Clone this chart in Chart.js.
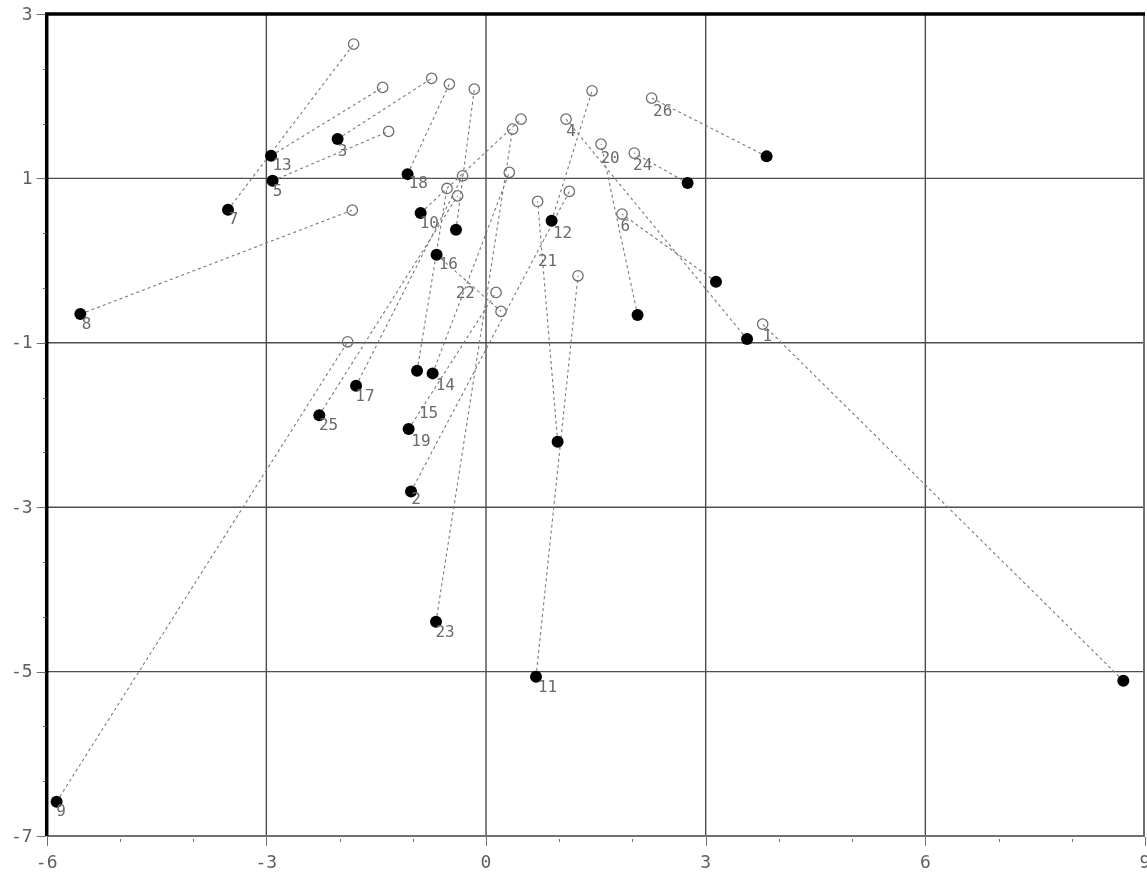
<!DOCTYPE html>
<html>
<head>
<meta charset="utf-8">
<title>Configuration comparison</title>
<script src="https://cdn.jsdelivr.net/npm/chart.js@4/dist/chart.umd.min.js"></script>
<style>
  html, body { margin: 0; padding: 0; background: #ffffff; overflow: hidden; }
  canvas { display: block; }
</style>
</head>
<body>
<canvas id="chart" width="1147" height="877"></canvas>
<script>
// Object numbers 1..26
const ids = [1,2,3,4,5,6,7,8,9,10,11,12,13,14,15,16,17,18,19,20,21,22,23,24,25,26];

// Filled markers (first configuration)
const fittedX = [8.704,-1.024,-2.027,3.565,-2.915,3.141,-3.524,-5.541,-5.865,-0.893,
                 0.683,0.896,-2.936,-0.729,-0.942,-0.675,-1.775,-1.071,-1.057,2.070,
                 0.978,-0.410,-0.683,2.753,-2.277,3.832];
const fittedY = [-5.112,-2.808,1.478,-0.955,0.971,-0.258,0.618,-0.651,-6.584,0.578,
                 -5.063,0.484,1.275,-1.372,-1.341,0.071,-1.523,1.052,-2.050,-0.663,
                 -2.204,0.375,-4.394,0.943,-1.880,1.268];

// Open markers (second configuration), same object order
const targetX = [3.778,1.138,-0.743,1.093,-1.330,1.857,-1.808,-1.826,-1.890,0.478,
                 1.256,1.448,-1.412,0.318,-0.533,0.205,-0.320,-0.501,0.137,1.571,
                 0.705,-0.160,0.363,2.025,-0.388,2.262];
const targetY = [-0.773,0.842,2.217,1.721,1.572,0.566,2.634,0.614,-0.988,1.721,
                 -0.185,2.066,2.107,1.073,0.878,-0.618,1.032,2.147,-0.387,1.417,
                 0.720,2.086,1.600,1.308,0.788,1.977];

// Where each object number is written
const labelX = [3.842,-0.956,-1.958,1.161,-2.846,1.903,-3.447,-5.455,-5.804,-0.774,
                0.841,1.046,-2.786,-0.556,-0.784,-0.515,-1.653,-0.925,-0.888,1.694,
                0.841,-0.283,-0.560,2.139,-2.150,2.412];
const labelY = [-0.919,-2.901,1.336,1.579,0.849,0.423,0.505,-0.773,-6.693,0.465,
                -5.180,0.343,1.165,-1.515,-1.855,-0.043,-1.645,0.951,-2.192,1.255,
                -0.002,-0.395,-4.511,1.162,-2.001,1.822];

const xTicks = [-6,-3,0,3,6,9];
const yTicks = [-7,-5,-3,-1,1,3];
const xMinorStep = 1;
const yMinorStep = 2/3;

const connectorSets = ids.map((id, i) => ({
  label: 'pair ' + id,
  data: [{x: fittedX[i], y: fittedY[i]}, {x: targetX[i], y: targetY[i]}],
  showLine: true,
  borderColor: '#7a7a7a',
  borderWidth: 1.1,
  borderDash: [3, 3],
  pointRadius: 0,
  pointHoverRadius: 0
}));

const filledSet = {
  label: 'fitted',
  data: ids.map((id, i) => ({x: fittedX[i], y: fittedY[i]})),
  pointRadius: 6,
  pointHoverRadius: 6,
  pointBackgroundColor: '#000000',
  pointBorderColor: '#000000',
  pointBorderWidth: 0,
  showLine: false
};

const openSet = {
  label: 'target',
  data: ids.map((id, i) => ({x: targetX[i], y: targetY[i]})),
  pointRadius: 5.2,
  pointHoverRadius: 5.2,
  pointBackgroundColor: 'rgba(255,255,255,0)',
  pointBorderColor: '#6e6e6e',
  pointBorderWidth: 1.3,
  showLine: false
};

const tickFontCss = '18px "DejaVu Sans Mono", monospace';

// Frame, grid, tick marks, tick labels and object numbers
const framePlugin = {
  id: 'frame',
  beforeDatasetsDraw(chart) {
    const {ctx, chartArea: a, scales: {x, y}} = chart;
    ctx.save();
    ctx.strokeStyle = '#4d4d4d';
    ctx.lineWidth = 1.4;
    xTicks.forEach(v => {
      if (v === x.min || v === x.max) return;
      const px = x.getPixelForValue(v);
      ctx.beginPath(); ctx.moveTo(px, a.top); ctx.lineTo(px, a.bottom); ctx.stroke();
    });
    yTicks.forEach(v => {
      if (v === y.min || v === y.max) return;
      const py = y.getPixelForValue(v);
      ctx.beginPath(); ctx.moveTo(a.left, py); ctx.lineTo(a.right, py); ctx.stroke();
    });
    ctx.restore();
  },
  afterDatasetsDraw(chart) {
    const {ctx, chartArea: a, scales: {x, y}} = chart;
    ctx.save();
    // lighter right and bottom edges
    ctx.strokeStyle = '#6f6f6f';
    ctx.lineWidth = 2;
    ctx.beginPath();
    ctx.moveTo(a.left, a.bottom); ctx.lineTo(a.right - 1, a.bottom); ctx.lineTo(a.right - 1, a.top);
    ctx.stroke();
    // heavy top and left edges
    ctx.strokeStyle = '#000000';
    ctx.lineWidth = 3.5;
    ctx.beginPath();
    ctx.moveTo(a.left, a.bottom); ctx.lineTo(a.left, a.top); ctx.lineTo(a.right, a.top);
    ctx.stroke();

    // tick marks
    ctx.strokeStyle = '#707070';
    ctx.lineWidth = 1;
    for (let v = x.min; v <= x.max + 1e-9; v += xMinorStep) {
      const px = Math.round(x.getPixelForValue(v)) + 0.5;
      const major = xTicks.includes(Math.round(v));
      ctx.beginPath();
      ctx.moveTo(px, a.bottom + (major ? 1 : 3));
      ctx.lineTo(px, a.bottom + (major ? 10 : 6));
      ctx.stroke();
    }
    for (let k = 0; ; k++) {
      const v = y.max - k * yMinorStep;
      if (v < y.min - 1e-9) break;
      const py = Math.round(y.getPixelForValue(v)) + 0.5;
      const major = yTicks.some(t => Math.abs(t - v) < 1e-6);
      ctx.beginPath();
      ctx.moveTo(a.left - (major ? 10 : 4), py);
      ctx.lineTo(a.left - 1, py);
      ctx.stroke();
    }

    // tick labels
    ctx.font = tickFontCss;
    ctx.fillStyle = '#5e5e5e';
    ctx.textAlign = 'center';
    ctx.textBaseline = 'middle';
    xTicks.forEach(v => {
      ctx.fillText(String(v), x.getPixelForValue(v), a.bottom + 27);
    });
    ctx.textAlign = 'right';
    yTicks.forEach(v => {
      ctx.fillText(String(v), a.left - 14, y.getPixelForValue(v) + 1);
    });
    ctx.restore();
  },
  afterDraw(chart) {
    const {ctx, scales: {x, y}} = chart;
    ctx.save();
    ctx.font = '16px "DejaVu Sans Mono", monospace';
    ctx.fillStyle = '#6a6a6a';
    ctx.textAlign = 'center';
    ctx.textBaseline = 'middle';
    ids.forEach((id, i) => {
      ctx.fillText(String(id), x.getPixelForValue(labelX[i]), y.getPixelForValue(labelY[i]) + 1);
    });
    ctx.restore();
  }
};

new Chart(document.getElementById('chart'), {
  type: 'scatter',
  data: { datasets: [filledSet, openSet, ...connectorSets] },
  options: {
    responsive: false,
    animation: false,
    events: [],
    layout: { autoPadding: false, padding: { top: 14, right: 2, left: 0, bottom: 0 } },
    plugins: { legend: { display: false }, tooltip: { enabled: false } },
    scales: {
      x: {
        type: 'linear', min: -6, max: 9,
        afterBuildTicks: s => { s.ticks = xTicks.map(v => ({value: v})); },
        afterFit: s => { s.height = 41; },
        grid: { display: false, drawTicks: false },
        border: { display: false },
        ticks: { display: false }
      },
      y: {
        type: 'linear', min: -7, max: 3,
        afterBuildTicks: s => { s.ticks = yTicks.map(v => ({value: v})); },
        afterFit: s => { s.width = 46.7; },
        grid: { display: false, drawTicks: false },
        border: { display: false },
        ticks: { display: false }
      }
    }
  },
  plugins: [framePlugin]
});
</script>
</body>
</html>
